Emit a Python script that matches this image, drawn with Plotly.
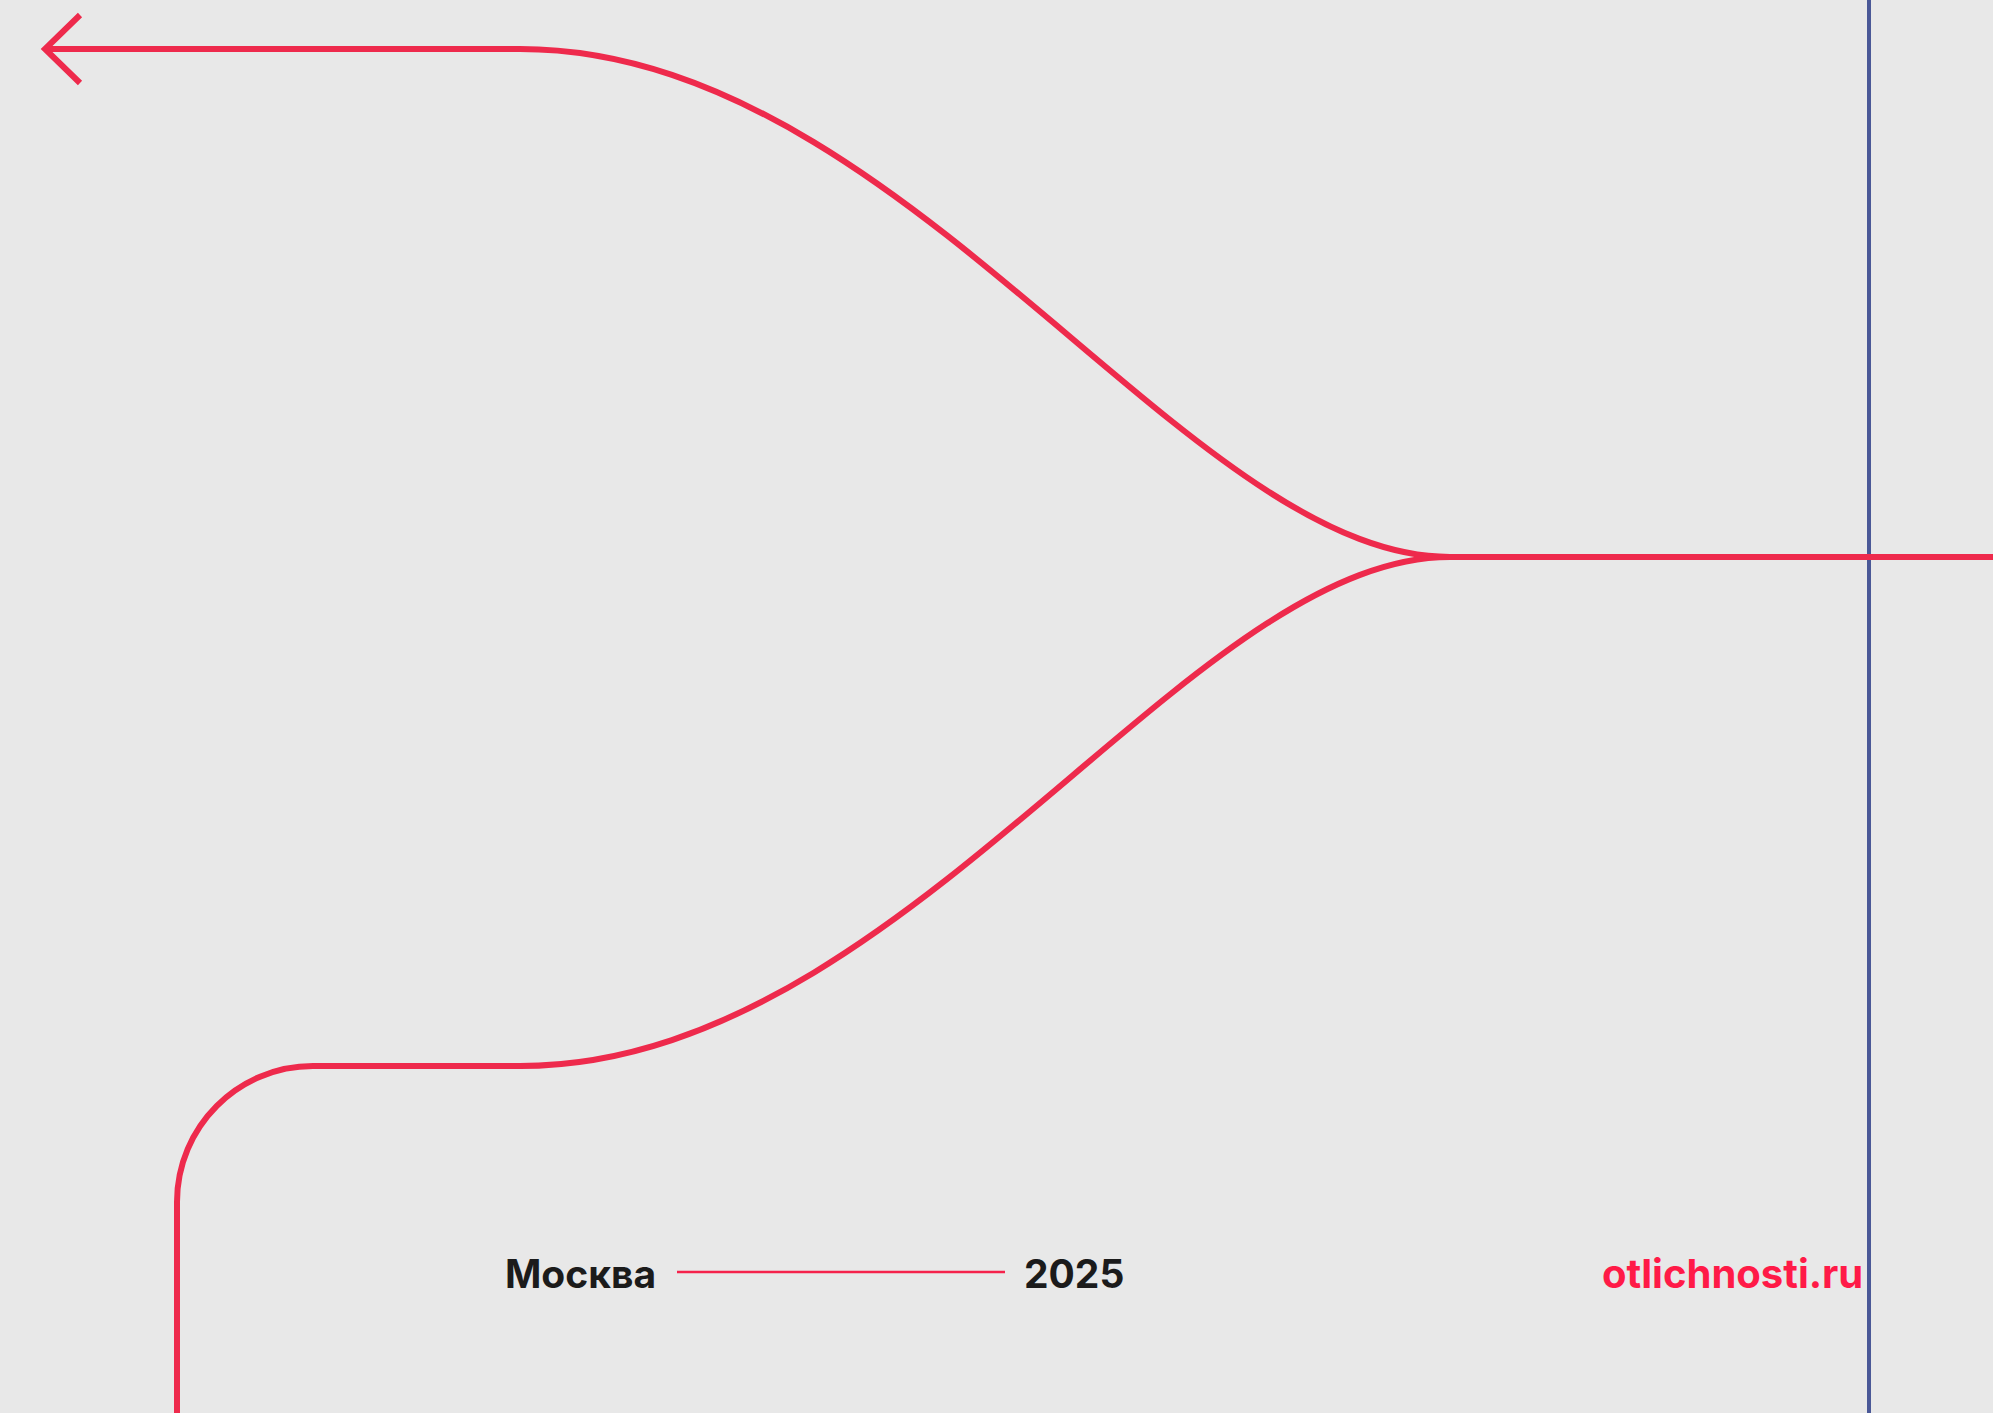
import plotly.graph_objects as go

W, H = 1993, 1413

# ---- node coordinates (canvas pixels) ----
trunk_x = [1450, 1993]
trunk_y = [557, 557]

upper_curve_x = [1450, 1186, 904, 520]   # cubic Bezier: start, ctrl1, ctrl2, end
upper_curve_y = [557, 557, 49, 49]
upper_tail_x = [520, 45]
upper_tail_y = [49, 49]

arrow_x = [80, 45, 80]
arrow_y = [15, 49, 83]

lower_curve_x = [1450, 1186, 904, 520]
lower_curve_y = [557, 557, 1066, 1066]
lower_tail_x = [520, 313]
lower_tail_y = [1066, 1066]

corner_cx, corner_cy = 313, 1202
corner_r = 136
drop_x = [177, 177]
drop_y = [1202, 1413]

divider_x = [1869, 1869]
divider_y = [0, 1413]

footer_rule_x = [677, 1005]
footer_rule_y = [1272, 1272]

labels = ["Москва", "2025", "otlichnosti.ru"]
label_x = [503, 1022, 1600]
label_size = [39, 39, 40]
label_color = ["#1b1b1b", "#1b1b1b", "#FF1A47"]
label_y = 1273

RED = "#EE2A4C"
LW = 6

fig = go.Figure()
fig.add_trace(go.Scatter(x=[0, W], y=[0, H], mode="markers",
                         marker=dict(opacity=0), hoverinfo="skip", showlegend=False))


def bez(xs, ys):
    return (f"M {xs[0]},{ys[0]} C {xs[1]},{ys[1]} {xs[2]},{ys[2]} {xs[3]},{ys[3]}")


def poly(xs, ys):
    s = f"M {xs[0]},{ys[0]}"
    for x, y in zip(xs[1:], ys[1:]):
        s += f" L {x},{y}"
    return s


k = 0.5523 * corner_r
corner_path = (f"M {lower_tail_x[-1]},{lower_tail_y[-1]} "
               f"C {corner_cx - k},{corner_cy - corner_r} {corner_cx - corner_r},{corner_cy - k} "
               f"{corner_cx - corner_r},{corner_cy}")

red_paths = [
    poly(trunk_x, trunk_y),
    bez(upper_curve_x, upper_curve_y),
    poly(upper_tail_x, upper_tail_y),
    poly(arrow_x, arrow_y),
    bez(lower_curve_x, lower_curve_y),
    poly(lower_tail_x, lower_tail_y),
    corner_path,
    poly(drop_x, drop_y),
]

shapes = [dict(type="path", path=poly(divider_x, divider_y), xref="x", yref="y",
               line=dict(color="#4A5897", width=4))]
for p in red_paths:
    shapes.append(dict(type="path", path=p, xref="x", yref="y",
                       line=dict(color=RED, width=LW)))
shapes.append(dict(type="path", path=poly(footer_rule_x, footer_rule_y), xref="x", yref="y",
                   line=dict(color="#F5224B", width=2.5)))

annotations = []
for t, x, s, c in zip(labels, label_x, label_size, label_color):
    annotations.append(dict(text=t, x=x, y=label_y, xref="x", yref="y",
                            xanchor="left", yanchor="middle", showarrow=False,
                            font=dict(family="Inter", size=s, color=c, weight=700)))

fig.update_layout(
    width=W, height=H, margin=dict(l=0, r=0, t=0, b=0),
    paper_bgcolor="#E8E8E8", plot_bgcolor="#E8E8E8",
    xaxis=dict(range=[0, W], visible=False, fixedrange=True),
    yaxis=dict(range=[H, 0], visible=False, fixedrange=True),
    shapes=shapes, annotations=annotations, showlegend=False,
)

fig.write_html("out.html", config={"displayModeBar": False},
               post_script="document.body.style.margin='0';document.body.style.overflow='hidden';")
